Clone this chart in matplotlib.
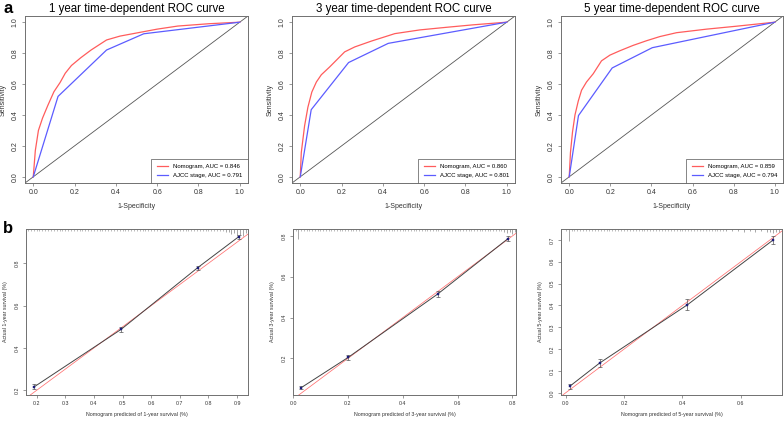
import matplotlib
matplotlib.use("Agg")
import matplotlib.pyplot as plt

plt.rcParams['font.family'] = ['Liberation Sans', 'DejaVu Sans']

# ROC curves (1-specificity, sensitivity)
roc_titles = ["1 year time-dependent ROC curve", "3 year time-dependent ROC curve", "5 year time-dependent ROC curve"]
roc_nom_auc = ["0.846", "0.860", "0.859"]
roc_ajcc_auc = ["0.791", "0.801", "0.794"]

roc1_nom_x = [0, 0.01, 0.025, 0.045, 0.07, 0.1, 0.13, 0.155, 0.185, 0.23, 0.28, 0.355, 0.42, 0.52, 0.6, 0.7, 0.85, 1]
roc1_nom_y = [0, 0.17, 0.3, 0.38, 0.46, 0.55, 0.61, 0.67, 0.72, 0.77, 0.82, 0.885, 0.91, 0.935, 0.955, 0.975, 0.99, 1]
roc1_ajcc_x = [0, 0.12, 0.355, 0.535, 1]
roc1_ajcc_y = [0, 0.52, 0.82, 0.925, 1]

roc2_nom_x = [0, 0.005, 0.021, 0.037, 0.056, 0.078, 0.102, 0.142, 0.183, 0.215, 0.264, 0.345, 0.458, 0.579, 0.709, 0.838, 1]
roc2_nom_y = [0, 0.157, 0.33, 0.45, 0.548, 0.613, 0.66, 0.71, 0.765, 0.808, 0.84, 0.878, 0.926, 0.95, 0.967, 0.983, 1]
roc2_ajcc_x = [0, 0.053, 0.234, 0.426, 1]
roc2_ajcc_y = [0, 0.434, 0.739, 0.863, 1]

roc3_nom_x = [0, 0.006, 0.016, 0.028, 0.044, 0.06, 0.084, 0.117, 0.157, 0.198, 0.246, 0.311, 0.376, 0.441, 0.522, 0.668, 0.814, 1]
roc3_nom_y = [0, 0.157, 0.29, 0.4, 0.49, 0.56, 0.613, 0.667, 0.75, 0.787, 0.815, 0.85, 0.88, 0.907, 0.932, 0.955, 0.974, 1]
roc3_ajcc_x = [0, 0.045, 0.209, 0.404, 1]
roc3_ajcc_y = [0, 0.396, 0.704, 0.835, 1]

# calibration curves
cal_years = ["1", "3", "5"]
cal1_pred = [0.192, 0.495, 0.762, 0.906]
cal1_obs = [0.217, 0.488, 0.779, 0.926]
cal1_err = [0.011, 0.011, 0.01, 0.009]
cal2_pred = [0.030, 0.201, 0.527, 0.783]
cal2_obs = [0.057, 0.205, 0.515, 0.786]
cal2_err = [0.008, 0.012, 0.015, 0.013]
cal3_pred = [0.014, 0.116, 0.417, 0.711]
cal3_obs = [0.030, 0.136, 0.403, 0.700]
cal3_err = [0.012, 0.02, 0.025, 0.02]

# rug of predicted values along the top (short ticks + taller ticks)
rug1_x = [0.17, 0.18, 0.19, 0.2, 0.21, 0.22, 0.23, 0.24, 0.25, 0.26, 0.27, 0.28, 0.29, 0.3, 0.31, 0.32, 0.33, 0.34,
          0.35, 0.36, 0.37, 0.38, 0.39, 0.4, 0.41, 0.42, 0.43, 0.44, 0.45, 0.46, 0.47, 0.48, 0.49, 0.5, 0.51, 0.52,
          0.53, 0.54, 0.55, 0.56, 0.57, 0.58, 0.59, 0.6, 0.61, 0.62, 0.63, 0.64, 0.65, 0.66, 0.67, 0.68, 0.69, 0.7,
          0.71, 0.72, 0.73, 0.74, 0.75, 0.76, 0.77, 0.78, 0.79, 0.8, 0.81, 0.82, 0.83, 0.84, 0.85]
rug1_tall_x = [0.86, 0.87, 0.88, 0.89, 0.9, 0.91, 0.92, 0.93]
rug1_tall_h = [3, 3, 5, 4, 7, 6, 7, 4]
rug2_x = [0.01, 0.03, 0.04, 0.05, 0.06, 0.07, 0.08, 0.09, 0.1, 0.11, 0.12, 0.13, 0.14, 0.15, 0.16, 0.17, 0.18, 0.19,
          0.2, 0.21, 0.22, 0.23, 0.24, 0.25, 0.26, 0.27, 0.28, 0.29, 0.3, 0.31, 0.32, 0.33, 0.34, 0.35, 0.36, 0.37,
          0.38, 0.39, 0.4, 0.41, 0.42, 0.43, 0.44, 0.45, 0.46, 0.47, 0.48, 0.49, 0.5, 0.51, 0.52, 0.53, 0.54, 0.55,
          0.56, 0.57, 0.58, 0.59, 0.6, 0.61, 0.62, 0.63, 0.64, 0.65, 0.66, 0.67, 0.68, 0.69, 0.7, 0.71, 0.72, 0.73,
          0.74, 0.75, 0.76]
rug2_tall_x = [0.02, 0.77, 0.78, 0.79, 0.8, 0.81]
rug2_tall_h = [10, 3, 4, 3, 5, 3]
rug3_x = [0.0, 0.02, 0.03, 0.04, 0.05, 0.06, 0.07, 0.08, 0.09, 0.1, 0.11, 0.12, 0.13, 0.14, 0.15, 0.16, 0.17, 0.18,
          0.19, 0.2, 0.21, 0.22, 0.23, 0.24, 0.25, 0.26, 0.27, 0.28, 0.29, 0.3, 0.31, 0.32, 0.33, 0.34, 0.35, 0.36,
          0.37, 0.38, 0.39, 0.4, 0.41, 0.42, 0.43, 0.44, 0.45, 0.46, 0.47, 0.48, 0.49, 0.5, 0.51, 0.52, 0.53, 0.54]
rug3_tall_x = [0.013, 0.55, 0.57, 0.59, 0.61, 0.63, 0.65, 0.67, 0.69, 0.7, 0.71, 0.72, 0.73]
rug3_tall_h = [12, 2.5, 2.5, 2.5, 3, 2.5, 3, 2.5, 3, 3, 4, 3, 3]

RED = '#ff5c5c'
BLUE = '#5c5cff'
BOX = '#707070'

W, H = 784, 423
fig = plt.figure(figsize=(W / 100, H / 100), dpi=100)


def px_axes(left, right, top, bottom):
    return fig.add_axes([left / W, 1 - bottom / H, (right - left) / W, (bottom - top) / H])


def style(ax, size):
    for s in ax.spines.values():
        s.set_color(BOX)
        s.set_linewidth(0.7)
    ax.tick_params(length=2.5, width=0.5, color=BOX, labelsize=size, pad=2, labelcolor='#333333')
    ax.tick_params(axis='y', labelrotation=90)
    for t in ax.get_yticklabels():
        t.set_va('center')


# top row: ROC
roc_boxes = [(25, 248), (292, 515), (561, 783)]
roc_data = [(roc1_nom_x, roc1_nom_y, roc1_ajcc_x, roc1_ajcc_y),
            (roc2_nom_x, roc2_nom_y, roc2_ajcc_x, roc2_ajcc_y),
            (roc3_nom_x, roc3_nom_y, roc3_ajcc_x, roc3_ajcc_y)]
for i in range(3):
    ax = px_axes(roc_boxes[i][0], roc_boxes[i][1], 16, 183)
    nx, ny, ax_, ay = roc_data[i]
    ax.plot([-0.04, 1.04], [-0.04, 1.04], color='#555555', lw=0.6)
    ax.plot(nx, ny, color=RED, lw=0.9, label="Nomogram, AUC = " + roc_nom_auc[i])
    ax.plot(ax_, ay, color=BLUE, lw=0.9, label="AJCC stage, AUC = " + roc_ajcc_auc[i])
    ax.set_xlim(-0.04, 1.04)
    ax.set_ylim(-0.04, 1.04)
    ax.set_xticks([0, 0.2, 0.4, 0.6, 0.8, 1.0])
    ax.set_yticks([0, 0.2, 0.4, 0.6, 0.8, 1.0])
    ax.set_xticklabels(["0.0", "0.2", "0.4", "0.6", "0.8", "1.0"])
    ax.set_yticklabels(["0.0", "0.2", "0.4", "0.6", "0.8", "1.0"])
    style(ax, 5)
    ax.set_xlabel("1-Specificity", fontsize=5, labelpad=5, color='#333333')
    ax.set_ylabel("Sensitivity", fontsize=5, labelpad=4, color='#333333')
    ax.set_title(roc_titles[i], fontsize=8.3, pad=3)
    leg = ax.legend(loc='lower right', borderaxespad=0, fontsize=4.3, fancybox=False,
                    edgecolor='#555555', framealpha=1, handlelength=2.0, borderpad=0.9,
                    labelspacing=0.55, handletextpad=0.8)
    leg.get_frame().set_linewidth(0.5)

# bottom row: calibration
cal_boxes = [(26, 248), (293, 516), (561, 782)]
cal_data = [(cal1_pred, cal1_obs, cal1_err, rug1_x, rug1_tall_x, rug1_tall_h),
            (cal2_pred, cal2_obs, cal2_err, rug2_x, rug2_tall_x, rug2_tall_h),
            (cal3_pred, cal3_obs, cal3_err, rug3_x, rug3_tall_x, rug3_tall_h)]
cal_xlim = [(0.163, 0.938), (0.004, 0.813), (-0.016, 0.741)]
cal_ylim = [(0.178, 0.962), (0.021, 0.834), (-0.01, 0.75)]
cal_xticks = [[0.2, 0.3, 0.4, 0.5, 0.6, 0.7, 0.8, 0.9], [0.0, 0.2, 0.4, 0.6, 0.8], [0.0, 0.2, 0.4, 0.6]]
cal_yticks = [[0.2, 0.4, 0.6, 0.8], [0.2, 0.4, 0.6, 0.8], [0.0, 0.1, 0.2, 0.3, 0.4, 0.5, 0.6, 0.7]]
for i in range(3):
    ax = px_axes(cal_boxes[i][0], cal_boxes[i][1], 229, 395)
    pred, obs, err, rx, tx, th = cal_data[i]
    lo, hi = cal_xlim[i]
    ax.plot([-0.1, 1.1], [-0.1, 1.1], color='#ff7070', lw=0.55)
    ax.plot(pred, obs, color='#444444', lw=0.7)
    ax.errorbar(pred, obs, yerr=err, fmt='none', ecolor='#555555', elinewidth=0.5, capsize=1.3, capthick=0.5)
    ax.plot(pred, obs, 's', color='#1c1c7a', ms=1.5, mec='#1c1c7a', mew=0.3)
    ax.set_xlim(lo, hi)
    ax.set_ylim(cal_ylim[i])
    # rug along the top edge
    ph = 1 / 166
    ax.vlines(rx, 1 - 1.6 * ph, 1, transform=ax.get_xaxis_transform(), color='#888888', lw=0.4)
    for x, h in zip(tx, th):
        ax.vlines(x, 1 - h * ph, 1, transform=ax.get_xaxis_transform(), color='#777777', lw=0.45)
    ax.set_xticks(cal_xticks[i])
    ax.set_yticks(cal_yticks[i])
    ax.set_xticklabels(["%.1f" % v for v in cal_xticks[i]])
    ax.set_yticklabels(["%.1f" % v for v in cal_yticks[i]])
    style(ax, 3.8)
    ax.set_xlabel("Nomogram predicted of " + cal_years[i] + "-year survival (%)", fontsize=3.8, labelpad=4,
                  color='#333333')
    ax.set_ylabel("Actual " + cal_years[i] + "-year survival (%)", fontsize=3.8, labelpad=5, color='#333333')

fig.text(3 / W, 1 - 1 / H, "a", fontsize=12, fontweight='bold', va='top', ha='left')
fig.text(3 / W, 1 - 221 / H, "b", fontsize=12, fontweight='bold', va='top', ha='left')

fig.savefig("out.png", dpi=100, facecolor='white')
